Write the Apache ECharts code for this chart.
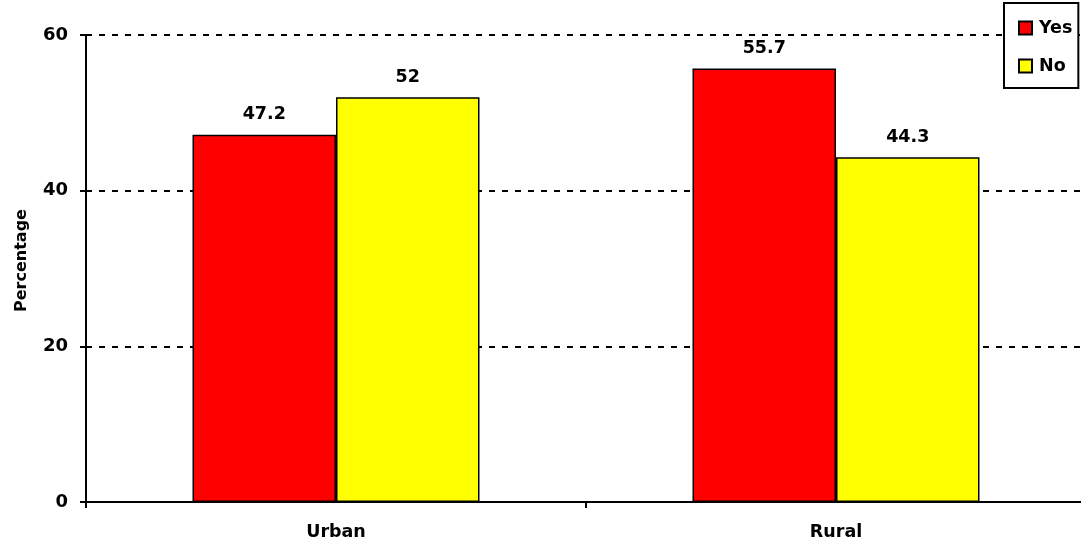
<!DOCTYPE html>
<html>
<head>
<meta charset="utf-8">
<script src="https://cdn.jsdelivr.net/npm/echarts@6/dist/echarts.min.js"></script>
<style>
  html,body{margin:0;padding:0;background:#fff;overflow:hidden;}
  #chart{width:1090px;height:545px;}
</style>
</head>
<body>
<div id="chart"></div>
<script>
// categories and series values
var categories = ['Urban', 'Rural']
var yesValues = [47.2, 55.7]
var noValues = [52, 44.3]
var seriesNames = ['Yes', 'No']

var chartDom = document.getElementById('chart')
var myChart = echarts.init(chartDom)
var font = '"DejaVu Sans", sans-serif'

var labelStyle = {
  show: true,
  position: 'top',
  distance: 11,
  color: '#000',
  fontFamily: font,
  fontWeight: 'bold',
  fontSize: 17.5
}

var option = {
  animation: false,
  textStyle: { fontFamily: font },
  // plot runs a little past the right edge of the window, like the original
  grid: { left: 86, right: 4, top: 35, bottom: 43 },
  legend: {
    orient: 'vertical',
    left: 1004,
    top: 3,
    padding: [16, 6, 13, 14],
    itemGap: 20,
    itemWidth: 13,
    itemHeight: 13,
    icon: 'rect',
    borderColor: '#000',
    borderWidth: 2,
    borderRadius: 0,
    backgroundColor: '#fff',
    textStyle: { color: '#000', fontWeight: 'bold', fontSize: 17.5, fontFamily: font, padding: [0, 0, 0, 2] },
    itemStyle: { borderColor: '#000', borderWidth: 2 },
    data: seriesNames
  },
  xAxis: {
    type: 'category',
    data: categories,
    axisLine: { lineStyle: { color: '#000', width: 2 } },
    axisTick: { show: true, length: 6, lineStyle: { color: '#000', width: 2 } },
    axisLabel: { color: '#000', fontWeight: 'bold', fontSize: 17.5, margin: 21, fontFamily: font }
  },
  yAxis: {
    type: 'value',
    min: 0,
    max: 60,
    interval: 20,
    name: 'Percentage',
    nameLocation: 'middle',
    nameGap: 56,
    nameTextStyle: { color: '#000', fontWeight: 'bold', fontSize: 16, fontFamily: font, padding: [0, 0, 0, 16] },
    axisLine: { show: true, lineStyle: { color: '#000', width: 2 } },
    axisTick: { show: true, length: 6, lineStyle: { color: '#000', width: 2 } },
    axisLabel: { color: '#000', fontWeight: 'bold', fontSize: 18, margin: 18, fontFamily: font },
    splitLine: { show: true, lineStyle: { color: '#000', width: 2, type: [6, 7] } }
  },
  series: [
    {
      name: 'Yes',
      type: 'bar',
      data: yesValues,
      barGap: '0%',
      barCategoryGap: '42.6%',
      itemStyle: { color: '#FF0000', borderColor: '#000', borderWidth: 1.5 },
      label: labelStyle
    },
    {
      name: 'No',
      type: 'bar',
      data: noValues,
      itemStyle: { color: '#FFFF00', borderColor: '#000', borderWidth: 1.5 },
      label: labelStyle
    }
  ]
}

myChart.setOption(option)
</script>
</body>
</html>
